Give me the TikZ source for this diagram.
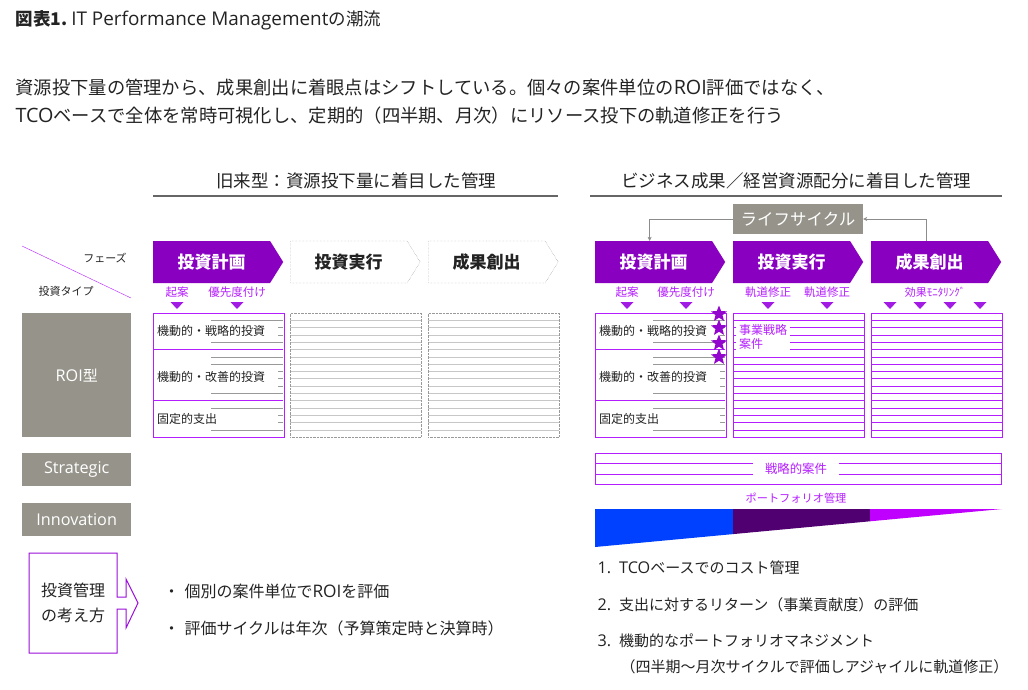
\documentclass[tikz,border=0pt]{standalone}
\usepackage{fontspec}
\setmainfont{Noto Sans CJK JP}
\newfontfamily\lat[Scale=1.08]{Open Sans}
\usepackage{xcolor}
\usetikzlibrary{positioning,arrows.meta,shapes.geometric,shapes.symbols}
\definecolor{ink}{RGB}{35,35,35}
\definecolor{plum}{RGB}{137,0,193}
\definecolor{lilac}{RGB}{180,30,255}
\definecolor{stone}{RGB}{150,148,138}
\definecolor{deepblue}{RGB}{0,64,255}
\definecolor{aubergine}{RGB}{80,0,112}
\definecolor{orchid}{RGB}{192,0,255}
\newcommand{\fs}[1]{\fontsize{#1}{#1}\selectfont}
\newcommand{\en}[1]{{\lat #1}}

\begin{document}
\begin{tikzpicture}[
  x=1pt, y=-1pt, text=ink, font=\fs{12},
  chev/.style={signal, signal to=east, signal pointer angle=116, minimum width=130pt, minimum height=42pt, inner sep=0pt, font=\fs{17}\bfseries},
  chevon/.style={chev, fill=plum, text=white},
  chevoff/.style={chev, draw=black!50, densely dotted, text=ink},
  tag/.style={font=\fs{11.5}, text=lilac},
  cue/.style={fill=lilac!90!black},
  slab/.style={fill=stone, text=white, minimum width=109pt, inner sep=0pt, anchor=north west, font=\fs{15}},
  col/.style={minimum width=131pt, minimum height=124pt, inner sep=0pt, anchor=north west},
  cell/.style={fill=white, anchor=west, inner sep=0pt, text width=121pt, align=left, font=\fs{12}},
  head/.style={font=\fs{17.5}},
  rulebar/.style={draw=black!60, line width=1.6pt},
  flow/.style={draw=black!45, -{Stealth[length=4pt,width=4pt]}},
  body/.style={anchor=west, font=\fs{18.3}},
  item/.style={anchor=west, font=\fs{15}},
  starmark/.style={star, star points=5, star point ratio=2.3, fill=plum!80!lilac, minimum size=17pt, inner sep=0pt}
]
\useasboundingbox (0,0) rectangle (1028,689);
% Title and lead text
\node[anchor=west, font=\fs{17.5}] (title) at (12,20) {\textbf{図表1.}\hspace{4pt}\en{IT Performance Management}の潮流};
\node[body] (lead1) at (12,88) {資源投下量の管理から、成果創出に着眼点はシフトしている。個々の案件単位の\en{ROI}評価ではなく、};
\node[body] (lead2) at (12,116) {\en{TCO}ベースで全体を常時可視化し、定期的（四半期、月次）にリソース投下の軌道修正を行う};
% Column headers
\node[head] (oldhead) at (356,181) {旧来型：資源投下量に着目した管理};
\node[head] (newhead) at (796,181) {ビジネス成果／経営資源配分に着目した管理};
\draw[rulebar] (153,196) -- (558,196);
\draw[rulebar] (590,196) -- (1002,196);
% Corner cell
\draw[lilac] (22,246) -- (131,298);
\node[font=\fs{11}] (phase) at (105,258) {フェーズ};
\node[font=\fs{11}] (kind) at (66,291) {投資タイプ};
% Phases, old style
\node[chevon, anchor=west] (oplan) at (153,262) {投資計画};
\node[chevoff, anchor=west] (orun) at (290,262) {投資実行};
\node[chevoff, anchor=west] (oyield) at (428,262) {成果創出};
\node[tag] (oidea) at (177,292) {起案};
\node[tag] (orank) at (237,292) {優先度付け};
\foreach \x in {177,237} \fill[cue] ({\x-6.5},302) -- ({\x+6.5},302) -- (\x,309) -- cycle;
% Phases, new style
\node[chevon, anchor=west] (plan) at (595,262) {投資計画};
\node[chevon, anchor=west] (run) at (733,262) {投資実行};
\node[chevon, anchor=west] (yield) at (871,262) {成果創出};
\node[fill=stone, text=white, minimum width=130pt, minimum height=30pt, inner sep=0pt, font=\fs{16.5}] (life) at (798,219) {ライフサイクル};
\draw[flow] ([xshift=-3pt]yield.north) |- (life.east);
\draw[flow] (life.west) -| ([xshift=-4pt]plan.north);
\node[tag] (idea) at (627,292) {起案};
\node[tag] (rank) at (686,292) {優先度付け};
\node[tag] (fix1) at (768,292) {軌道修正};
\node[tag] (fix2) at (827,292) {軌道修正};
\node[tag, font=\fs{11}] (watch) at (935,292) {効果ﾓﾆﾀﾘﾝｸﾞ};
\foreach \x in {627,686,768,827,890,920,950,980} \fill[cue] ({\x-6.5},302) -- ({\x+6.5},302) -- (\x,309) -- cycle;
% Row labels
\node[slab, minimum height=124pt] (roi) at (22,313) {\en{ROI}型};
\node[slab, minimum height=33pt] (strat) at (22,453) {\en{Strategic}};
\node[slab, minimum height=33pt] (innov) at (22,503) {\en{Innovation}};
% ROI grid: investment types
\foreach \x/\n in {153/oa,595/na} {
  \foreach \k in {1,...,16} \draw[black!40] ({\x+58},{313+\k*124/17}) -- ({\x+130},{313+\k*124/17});
  \foreach \k in {5,12} \draw[lilac] (\x,{313+\k*124/17}) -- ({\x+130},{313+\k*124/17});
  \node[col, draw=lilac] (\n) at (\x,313) {};
  \node[cell, minimum height=16pt] (\n1) at ({\x+4},331) {機動的・戦略的投資};
  \node[cell, minimum height=20pt] (\n2) at ({\x+4},377) {機動的・改善的投資};
  \node[cell, minimum height=12pt] (\n3) at ({\x+4},418.5) {固定的支出};
}
% ROI grid: old style, empty
\foreach \x/\n in {290/ob,428/oc} {
  \foreach \k in {1,...,16} \draw[black!22] (\x,{313+\k*124/17}) -- ({\x+131},{313+\k*124/17});
  \node[col, draw=black!40, densely dotted] (\n) at (\x,313) {};
}
% ROI grid: new style, filled
\foreach \x/\n in {733/nb,871/nc} {
  \foreach \k in {1,...,16} \draw[lilac] (\x,{313+\k*124/17}) -- ({\x+131},{313+\k*124/17});
  \node[col, draw=lilac] (\n) at (\x,313) {};
}
\node[fill=white, text=lilac, align=left, font=\fontsize{12}{14}\selectfont, inner xsep=3pt, inner ysep=1pt, anchor=north west] (biz) at (736,323) {事業戦略\\案件};
\foreach \y in {314,328,343,357} \node[starmark] (s\y) at (719,\y) {};
% Strategic band and portfolio wedge
\foreach \y in {463.5,474} \draw[lilac] (595,\y) -- (1001,\y);
\node[col, draw=lilac, minimum width=406pt, minimum height=31pt] (band) at (595,453) {};
\node[fill=white, text=lilac, font=\fs{12.4}, inner xsep=12pt, inner ysep=1pt, minimum height=16pt] (sband) at (796,469) {戦略的案件};
\node[text=lilac, font=\fs{11.2}] (pf) at (796,498) {ポートフォリオ管理};
\fill[deepblue] (595,509) -- (733,509) -- (733,534.1) -- (595,547) -- cycle;
\fill[aubergine] (733,509) -- (870,509) -- (870,521.3) -- (733,534.1) -- cycle;
\fill[orchid] (870,509) -- (1002,509) -- (870,521.3) -- cycle;
% Way of thinking
\draw[plum!60!lilac, line width=1pt] (117,597) -- (117,553) -- (29,553) -- (29,653) -- (117,653) -- (117,609) -- (126,609) -- (126,628) -- (138,603) -- (126,579) -- (126,597) -- cycle;
\node[align=center, font=\fontsize{16}{25}\selectfont] (think) at (73,603) {投資管理\\の考え方};
\node[item, font=\fs{16}] (old1) at (160,591) {・\hspace{5pt}個別の案件単位で\en{ROI}を評価};
\node[item, font=\fs{16}] (old2) at (160,628) {・\hspace{5pt}評価サイクルは年次（予算策定時と決算時）};
\node[item] (new1) at (594,568) {\en{1.}\hspace{8pt}\en{TCO}ベースでのコスト管理};
\node[item] (new2) at (594,605) {\en{2.}\hspace{8pt}支出に対するリターン（事業貢献度）の評価};
\node[item] (new3) at (594,641) {\en{3.}\hspace{8pt}機動的なポートフォリオマネジメント};
\node[item] (new3b) at (617,667) {（四半期〜月次サイクルで評価しアジャイルに軌道修正）};
\end{tikzpicture}
\end{document}
